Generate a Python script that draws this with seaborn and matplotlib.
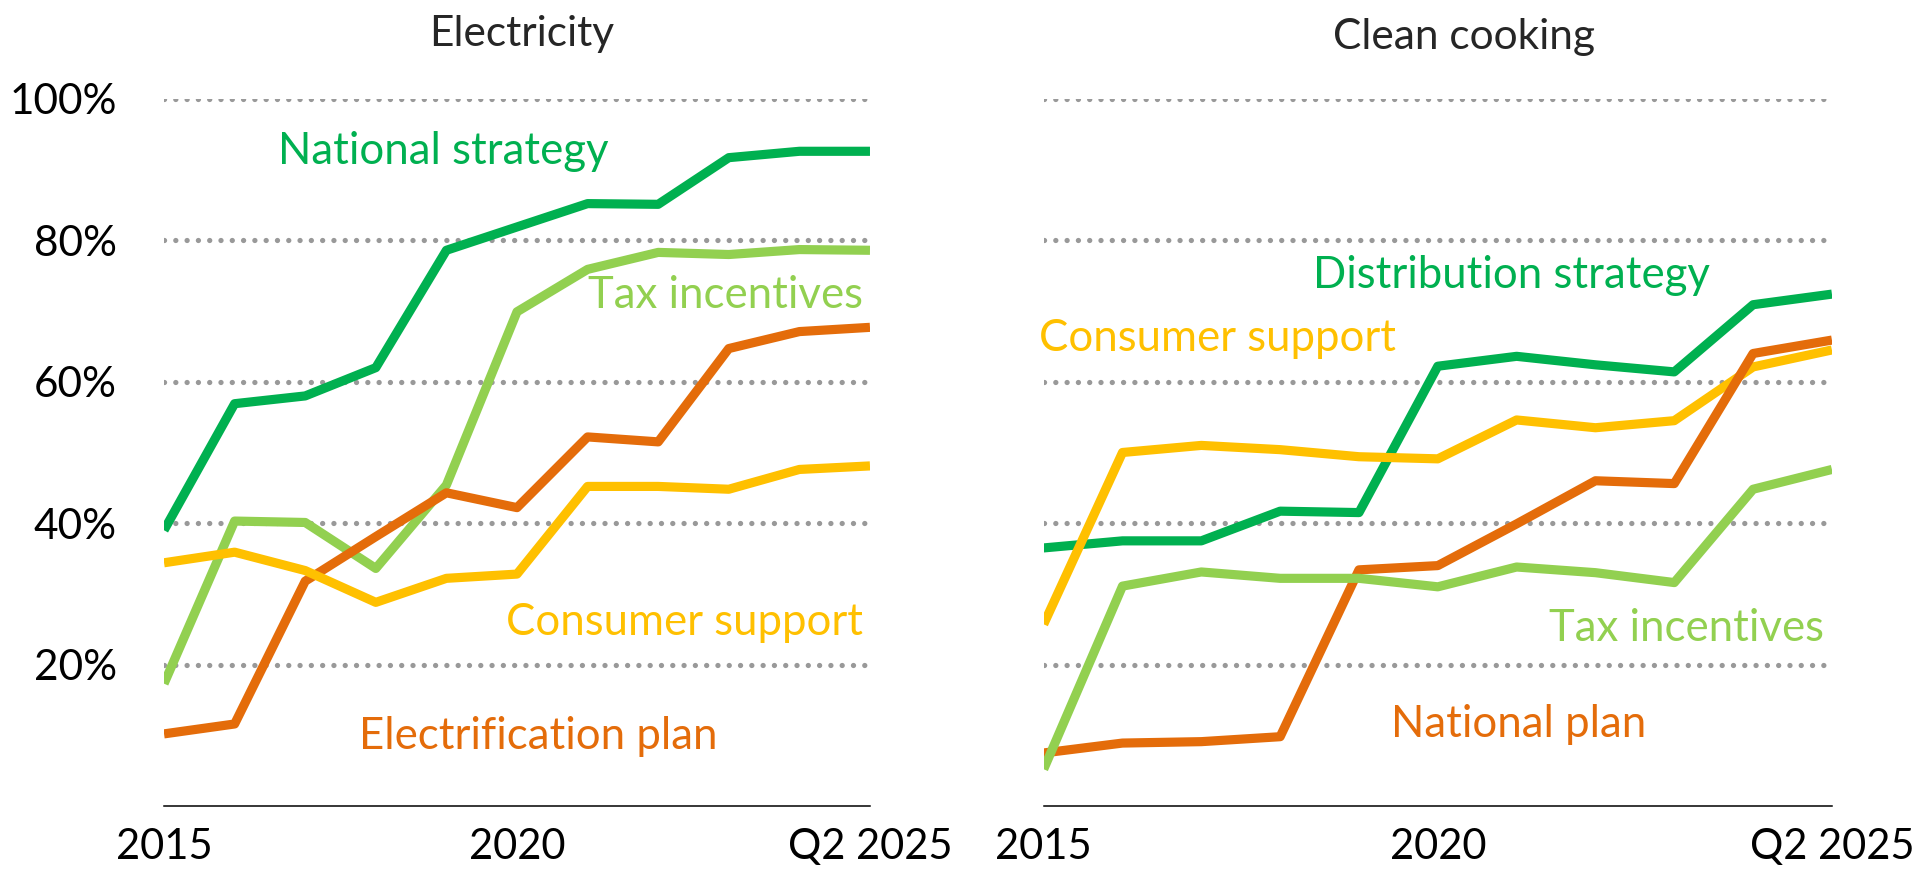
import matplotlib
matplotlib.use("Agg")
import matplotlib.pyplot as plt
import numpy as np
import pandas as pd
import seaborn as sns

years = list(range(2015, 2026))
xtick_pos = [2015, 2020, 2025]
xtick_labels = ["2015", "2020", "Q2 2025"]
ytick_pos = [20, 40, 60, 80, 100]
ytick_labels = ["20%", "40%", "60%", "80%", "100%"]

# Electricity policies (% share)
elec_national_strategy = [39.0, 56.9, 58.0, 62.0, 78.6, 81.9, 85.2, 85.1, 91.7, 92.6, 92.6]
elec_tax_incentives = [17.3, 40.3, 40.1, 33.6, 45.4, 69.9, 75.9, 78.3, 78.0, 78.7, 78.6]
elec_electrification_plan = [10.2, 11.6, 31.8, 38.1, 44.3, 42.2, 52.2, 51.5, 64.7, 67.1, 67.7]
elec_consumer_support = [34.4, 35.9, 33.3, 28.8, 32.2, 32.8, 45.2, 45.2, 44.8, 47.6, 48.1]

# Clean cooking policies (% share)
cook_distribution_strategy = [36.5, 37.5, 37.5, 41.7, 41.5, 62.2, 63.6, 62.4, 61.4, 70.9, 72.4]
cook_consumer_support = [25.7, 50.0, 51.0, 50.4, 49.4, 49.1, 54.6, 53.5, 54.5, 62.1, 64.5]
cook_national_plan = [7.5, 8.9, 9.1, 9.8, 33.4, 34.0, 39.9, 46.0, 45.6, 64.0, 65.9]
cook_tax_incentives = [5.2, 31.1, 33.1, 32.2, 32.2, 31.0, 33.8, 33.0, 31.6, 44.8, 47.6]

DARK_GREEN = "#00B050"
LIGHT_GREEN = "#92D050"
ORANGE = "#E46C0A"
YELLOW = "#FFC000"

sns.set_style("white")
plt.rcParams["font.family"] = ["Lato", "DejaVu Sans"]

fig = plt.figure(figsize=(19.32, 8.72), dpi=100)
ax_l = fig.add_axes([0.0849, 0.0757, 0.3654, 0.8108])
ax_r = fig.add_axes([0.5402, 0.0757, 0.4080, 0.8108])


def long_frame(series):
    rows = []
    for name, vals in series.items():
        for yr, v in zip(years, vals):
            rows.append({"year": yr, "share": v, "policy": name})
    return pd.DataFrame(rows)


def draw_panel(ax, series, palette, labels):
    for y in ytick_pos:
        ax.axhline(y, color="#999999", lw=3.8, linestyle=(0, (0.01, 2.13)),
                   dash_capstyle="round", zorder=0)
    df = long_frame(series)
    sns.lineplot(data=df, x="year", y="share", hue="policy",
                 palette=palette, hue_order=list(series.keys()),
                 linewidth=6.6, legend=False, ax=ax, zorder=3)
    for line in ax.get_lines()[len(ytick_pos):]:
        line.set_solid_joinstyle("round")
        line.set_solid_capstyle("butt")
    ax.set_xlim(2015, 2025)
    ax.set_ylim(0, 100)
    ax.set_xticks(xtick_pos)
    ax.set_xticklabels(xtick_labels)
    ax.set_xlabel("")
    ax.set_ylabel("")
    for s in ["top", "right", "left"]:
        ax.spines[s].set_visible(False)
    ax.spines["bottom"].set_color("black")
    ax.spines["bottom"].set_linewidth(1.1)
    ax.tick_params(axis="x", length=0, pad=16, labelsize=30, colors="black")
    for (text, x, y, color, ha) in labels:
        ax.text(x, y, text, color=color, fontsize=31.5, ha=ha, va="center", zorder=5)


draw_panel(
    ax_l,
    {"National strategy": elec_national_strategy,
     "Tax incentives": elec_tax_incentives,
     "Electrification plan": elec_electrification_plan,
     "Consumer support": elec_consumer_support},
    {"National strategy": DARK_GREEN, "Tax incentives": LIGHT_GREEN,
     "Electrification plan": ORANGE, "Consumer support": YELLOW},
    [("National strategy", 2018.96, 92.5, DARK_GREEN, "center"),
     ("Tax incentives", 2024.9, 72.2, LIGHT_GREEN, "right"),
     ("Consumer support", 2024.9, 26.0, YELLOW, "right"),
     ("Electrification plan", 2020.3, 9.8, ORANGE, "center")],
)
ax_l.set_yticks(ytick_pos)
ax_l.set_yticklabels(ytick_labels)
ax_l.tick_params(axis="y", length=0, pad=34, labelsize=30.5, colors="black")

draw_panel(
    ax_r,
    {"Distribution strategy": cook_distribution_strategy,
     "Consumer support": cook_consumer_support,
     "National plan": cook_national_plan,
     "Tax incentives": cook_tax_incentives},
    {"Distribution strategy": DARK_GREEN, "Consumer support": YELLOW,
     "National plan": ORANGE, "Tax incentives": LIGHT_GREEN},
    [("Distribution strategy", 2020.94, 75.1, DARK_GREEN, "center"),
     ("Consumer support", 2017.2, 66.1, YELLOW, "center"),
     ("Tax incentives", 2024.9, 25.1, LIGHT_GREEN, "right"),
     ("National plan", 2021.03, 11.5, ORANGE, "center")],
)
ax_r.set_yticks([])

fig.text(522 / 1932, 1 - 34 / 872, "Electricity", fontsize=30.5, ha="center", va="center")
fig.text(1464 / 1932, 1 - 37 / 872, "Clean cooking", fontsize=30.5, ha="center", va="center")

fig.savefig("out.png", dpi=100)
